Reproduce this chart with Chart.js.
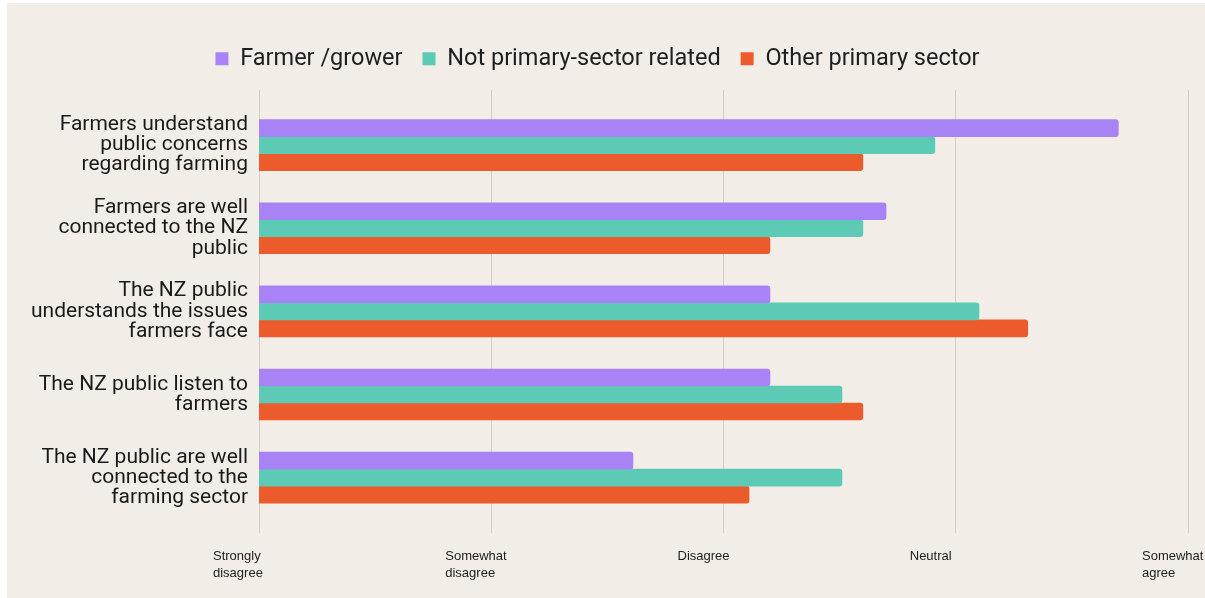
<!DOCTYPE html>
<html>
<head>
  <meta charset="UTF-8">
  <title>Farmer and public perceptions</title>
  <script src="https://cdn.jsdelivr.net/npm/chart.js"></script>
  <style>
    html, body {
      margin: 0;
      padding: 0;
      background: #ffffff;
      overflow: hidden;
    }
    .frame {
      position: absolute;
      left: 7px;
      top: 3px;
      width: 1198px;
      height: 595px;
      background: #f2eee7;
    }
  </style>
</head>
<body>
  <div class="frame">
    <canvas id="perceptionChart" width="1198" height="595"></canvas>
  </div>

  <script>
    // statements (y axis), each split into the lines shown on the chart
    const statements = [
      ['Farmers understand', 'public concerns', 'regarding farming'],
      ['Farmers are well', 'connected to the NZ', 'public'],
      ['The NZ public', 'understands the issues', 'farmers face'],
      ['The NZ public listen to', 'farmers'],
      ['The NZ public are well', 'connected to the', 'farming sector']
    ];

    // x axis: 1 = Strongly disagree ... 5 = Somewhat agree
    const scaleLabels = [
      ['Strongly', 'disagree'],
      ['Somewhat', 'disagree'],
      ['Disagree'],
      ['Neutral'],
      ['Somewhat', 'agree']
    ];

    // mean scores
    const farmerGrower = [4.70, 3.70, 3.20, 3.20, 2.61];
    const notPrimary = [3.91, 3.60, 4.10, 3.51, 3.51];
    const otherPrimary = [3.60, 3.20, 4.31, 3.60, 3.11];

    const gridColor = '#d3cfc8';

    // extra room between the legend and the top of the grid
    const legendGap = {
      id: 'legendGap',
      beforeLayout(chart) {
        const legend = chart.legend;
        if (!legend || legend._gapPatched) return;
        const fit = legend.fit;
        legend.fit = function () {
          fit.call(this);
          this.height += 9;
        };
        legend._gapPatched = true;
      }
    };

    const ctx = document.getElementById('perceptionChart').getContext('2d');
    new Chart(ctx, {
      type: 'bar',
      data: {
        labels: statements,
        datasets: [
          { label: 'Farmer /grower', data: farmerGrower, backgroundColor: '#a883f6' },
          { label: 'Not primary-sector related', data: notPrimary, backgroundColor: '#5dcab6' },
          { label: 'Other primary sector', data: otherPrimary, backgroundColor: '#eb5b2b' }
        ]
      },
      plugins: [legendGap],
      options: {
        indexAxis: 'y',
        responsive: false,
        animation: false,
        layout: {
          padding: { top: 24, right: 17, bottom: 1, left: 0 }
        },
        datasets: {
          bar: {
            barThickness: 17,
            borderRadius: 3,
            borderSkipped: 'start'
          }
        },
        plugins: {
          legend: {
            position: 'top',
            labels: {
              boxWidth: 13,
              boxHeight: 13,
              padding: 20,
              color: '#1e1e1e',
              font: { family: 'Roboto', size: 23.5 }
            }
          },
          tooltip: { enabled: false }
        },
        scales: {
          x: {
            type: 'linear',
            position: 'bottom',
            min: 1,
            max: 5,
            border: { display: false },
            grid: {
              color: gridColor,
              lineWidth: 1,
              drawTicks: true,
              tickLength: 14
            },
            ticks: {
              stepSize: 1,
              align: 'start',
              labelOffset: -46,
              padding: 15,
              color: '#222222',
              font: { family: 'Liberation Sans', size: 13, lineHeight: 1.3 },
              callback: (value) => scaleLabels[value - 1]
            },
            afterFit: (scale) => {
              scale.paddingLeft = 0;
              scale.paddingRight = 0;
            }
          },
          xTop: {
            type: 'linear',
            position: 'top',
            min: 1,
            max: 5,
            border: { display: false },
            grid: {
              color: gridColor,
              drawOnChartArea: false,
              drawTicks: true,
              tickLength: 14
            },
            ticks: { stepSize: 1, display: false }
          },
          y: {
            border: { display: false },
            grid: { display: false, drawTicks: false },
            ticks: {
              padding: 11,
              color: '#1a1a1a',
              font: { family: 'Roboto', size: 21, lineHeight: 0.96 }
            },
            afterFit: (scale) => {
              scale.width = 252;
            }
          }
        }
      }
    });
  </script>
</body>
</html>
